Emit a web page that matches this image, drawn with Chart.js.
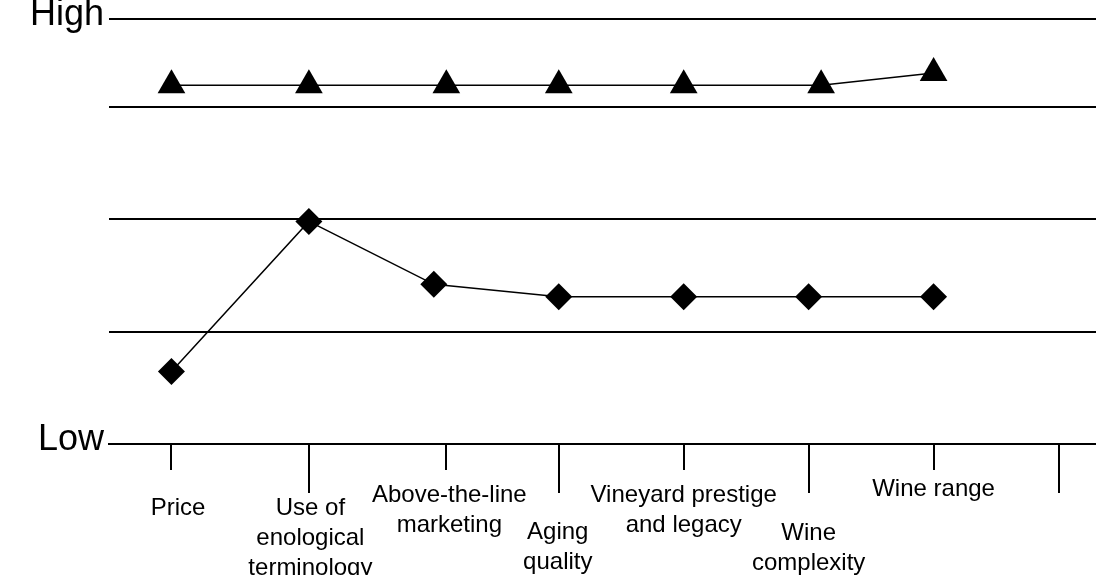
<!DOCTYPE html>
<html>
<head>
<meta charset="utf-8">
<script src="https://cdn.jsdelivr.net/npm/chart.js@4.4.1/dist/chart.umd.min.js"></script>
<style>
  html, body { margin: 0; padding: 0; background: #ffffff; overflow: hidden; }
  #c { display: block; width: 1096px; height: 575px; }
</style>
</head>
<body>
<canvas id="c" width="1096" height="575"></canvas>
<script>
// ---- data ----
const categories = [
  ['Price'],
  ['Use of', 'enological', 'terminology'],
  ['Above-the-line', 'marketing'],
  ['Aging', 'quality'],
  ['Vineyard prestige', 'and legacy'],
  ['Wine', 'complexity'],
  ['Wine range'],
  ['']
];
const categoryX = [1, 2.1, 3.2, 4.1, 5.1, 6.1, 7.1, 8.1];

const triangleX = [1, 2.1, 3.2, 4.1, 5.1, 6.2, 7.1];
const triangleY = [3.19, 3.19, 3.19, 3.19, 3.19, 3.19, 3.30];

const diamondX = [1, 2.1, 3.1, 4.1, 5.1, 6.1, 7.1];
const diamondY = [0.645, 1.98, 1.42, 1.31, 1.31, 1.31, 1.31];

const yTickValues = [0, 1, 2, 3, 3.78];
const yTickLabels = ['Low', '', '', '', 'High'];

// ---- style for the category labels ----
const labelStyle = {
  dy: [64, 64, 51, 88, 51, 89, 45, 0],
  dx: [6.5, 1.5, 3, -1, 0, 0, 0, 0],
  lineGap: 30,
  font: '24px "Liberation Sans", Arial, sans-serif'
};

Chart.defaults.font.family = '"Liberation Sans", Arial, sans-serif';
Chart.defaults.color = '#000';

const xLabelPlugin = {
  id: 'xLabels',
  afterDraw(chart) {
    const xs = chart.scales.x;
    const ctx = chart.ctx;
    ctx.save();
    ctx.font = labelStyle.font;
    ctx.fillStyle = '#000';
    ctx.textAlign = 'center';
    ctx.textBaseline = 'middle';
    categories.forEach((lines, i) => {
      const x = xs.getPixelForValue(categoryX[i]) + labelStyle.dx[i];
      lines.forEach((t, j) => {
        if (t) ctx.fillText(t, x, xs.top + labelStyle.dy[i] + j * labelStyle.lineGap);
      });
    });
    ctx.restore();
  }
};

new Chart(document.getElementById('c'), {
  type: 'line',
  data: {
    datasets: [
      {
        label: 'Triangles',
        data: triangleX.map((x, i) => ({ x, y: triangleY[i] })),
        borderColor: '#000',
        borderWidth: 1.5,
        pointStyle: 'triangle',
        pointRadius: 16,
        pointBackgroundColor: '#000',
        pointBorderColor: '#000',
        pointBorderWidth: 0,
        tension: 0,
        clip: false
      },
      {
        label: 'Diamonds',
        data: diamondX.map((x, i) => ({ x, y: diamondY[i] })),
        borderColor: '#000',
        borderWidth: 1.5,
        pointStyle: 'rectRot',
        pointRadius: 13.5,
        pointBackgroundColor: '#000',
        pointBorderColor: '#000',
        pointBorderWidth: 0,
        tension: 0,
        clip: false
      }
    ]
  },
  options: {
    responsive: false,
    maintainAspectRatio: false,
    animation: false,
    layout: { autoPadding: false, padding: { top: 19, right: 0, bottom: 0, left: 0 } },
    plugins: { legend: { display: false }, tooltip: { enabled: false } },
    scales: {
      x: {
        type: 'linear',
        position: 'bottom',
        min: 0.5,
        max: 8.4,
        afterBuildTicks: s => { s.ticks = categoryX.map(v => ({ value: v })); },
        afterFit: s => { s.height = 131; },
        ticks: { display: false },
        border: { display: true, color: '#000', width: 2 },
        grid: {
          drawOnChartArea: false,
          drawTicks: true,
          tickLength: 49,
          color: '#000',
          lineWidth: 2,
          tickColor: '#000',
          tickWidth: 2,
          tickBorderDash: ctx => (ctx.index % 2 === 0 ? [25, 400] : [])
        }
      },
      y: {
        type: 'linear',
        position: 'left',
        min: 0,
        max: 3.78,
        afterBuildTicks: s => { s.ticks = yTickValues.map(v => ({ value: v })); },
        afterFit: s => { s.width = 109; },
        ticks: {
          callback: (v, i) => yTickLabels[i],
          font: { size: 36, lineHeight: 0.6 },
          color: '#000',
          padding: 5,
          labelOffset: -4
        },
        border: { display: false },
        grid: { color: '#000', lineWidth: 2, drawTicks: false }
      }
    }
  },
  plugins: [xLabelPlugin]
});
</script>
</body>
</html>
